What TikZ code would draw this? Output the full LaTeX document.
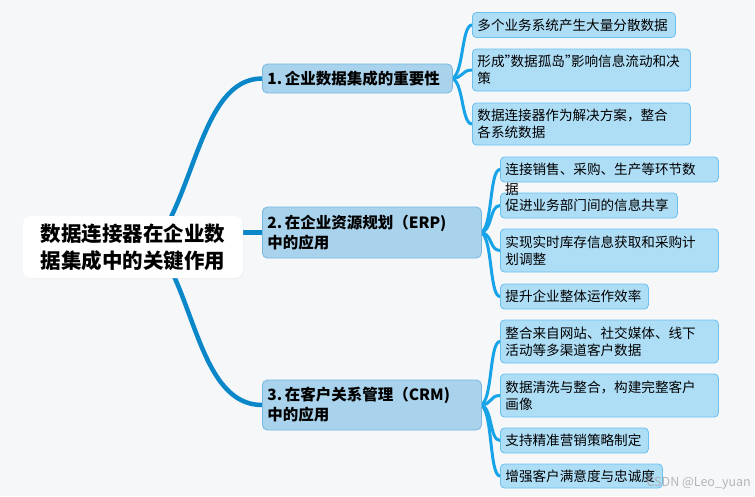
\documentclass[tikz,border=0pt]{standalone}
\usepackage{fontspec}
\setmainfont{Noto Sans CJK SC}
\usepackage{tikz}
\usetikzlibrary{shadows}

\definecolor{pagebg}{HTML}{F5F7F9}
\definecolor{mainblue}{HTML}{0A87C9}
\definecolor{subblue}{HTML}{17A3E8}
\definecolor{branchfill}{HTML}{A9D3EC}
\definecolor{branchedge}{HTML}{74B7E0}
\definecolor{leaffill}{HTML}{AEDDF6}
\definecolor{leafedge}{HTML}{6BC0EE}

\newcommand{\narrowq}{\makebox[6pt][l]{”}}

\pgfdeclarelayer{bg}
\pgfsetlayers{bg,main}

\tikzset{
  rootbox/.style={fill=white, rounded corners=8pt, minimum width=220pt, minimum height=62pt,
    align=center, font=\bfseries\fontsize{20.5}{27}\selectfont,
    drop shadow={opacity=0.06, shadow xshift=1pt, shadow yshift=-1pt}},
  branchbox/.style={fill=branchfill, draw=branchedge, line width=0.8pt, rounded corners=5pt,
    anchor=west, inner xsep=5pt, inner ysep=3pt, align=left,
    font=\bfseries\fontsize{15.5}{20}\selectfont},
  leafbox/.style={fill=leaffill, draw=leafedge, line width=0.8pt, rounded corners=4pt,
    anchor=west, inner xsep=5pt, inner ysep=2pt, align=left,
    font=\fontsize{13.6}{17}\selectfont},
  mainline/.style={draw=mainblue, line width=4.5pt, line cap=round},
  subline/.style={draw=subblue, line width=3pt, line cap=round}
}

\begin{document}
\begin{tikzpicture}[x=1pt, y=-1pt]
\useasboundingbox (0,0) rectangle (755,496);

% root and main branches
\node[rootbox] (root) at (133,247) {数据连接器在企业数\\据集成中的关键作用};
\node[branchbox, text width=180pt, minimum height=29pt] (b1) at (262,78.5) {1.\,企业数据集成的重要性};
\node[branchbox, text width=209pt, minimum height=51pt] (b2) at (262,232.5) {2.\,在企业资源规划（ERP)\\中的应用};
\node[branchbox, text width=209pt, minimum height=50pt] (b3) at (262,405) {3.\,在客户关系管理（CRM)\\中的应用};

% leaves of branch 1
\foreach \lname/\ly/\lw/\lh/\ltxt in {
    l11/25/193/25/{多个业务系统产生大量分散数据},
    l12/70/208/42/{形成\narrowq 数据孤岛\narrowq 影响信息流动和决\\策},
    l13/124/208/42/{数据连接器作为解决方案，整合\\各系统数据}}
  {
    \node[leafbox, text width=\lw pt, minimum height=\lh pt] (\lname) at (472,\ly) {\ltxt};
  }

% leaves of branch 2 and 3
\foreach \lname/\ly/\lw/\lh/\ltxt in {
    l21/169.5/208/25/{连接销售、采购、生产等环节数},
    l22/205.5/167/25/{促进业务部门间的信息共享},
    l23/250.5/208/43/{实现实时库存信息获取和采购计\\划调整},
    l24/296.5/138/25/{提升企业整体运作效率},
    l31/341.5/208/43/{整合来自网站、社交媒体、线下\\活动等多渠道客户数据},
    l32/395.5/208/43/{数据清洗与整合，构建完整客户\\画像},
    l33/440.5/138/25/{支持精准营销策略制定},
    l34/476/152/24/{增强客户满意度与忠诚度}}
  {
    \node[leafbox, text width=\lw pt, minimum height=\lh pt] (\lname) at (500,\ly) {\ltxt};
  }
% second line of l21 runs out of its box
\node[anchor=north west, inner sep=0pt, font=\fontsize{13.6}{17}\selectfont] (l21b)
  at ([xshift=5pt]l21.south west) {据};

\node[anchor=east, inner sep=0pt, text=gray!70, opacity=0.8, font=\fontsize{12.5}{14}\selectfont]
  (mark) at (751,483) {CSDN @Leo\_yuan};

\begin{pgfonlayer}{bg}
  \fill[pagebg] (0,0) rectangle (755,496);
  \coordinate (hub1) at (150,250);
  \coordinate (hub3) at (156,245);
  \draw[mainline] (hub1) .. controls (195,200) and (200,78.5) .. (b1.west);
  \draw[mainline] (root.east |- b2.west) -- (b2.west);
  \draw[mainline] (hub3) .. controls (195,295) and (200,405) .. (b3.west);
  \foreach \l in {l11,l12,l13}
    \draw[subline] ([xshift=-2pt]b1.east) .. controls +(13,0) and +(-11,0) .. (\l.west);
  \foreach \l in {l21,l22,l23,l24}
    \draw[subline] ([xshift=-2pt]b2.east) .. controls +(13,0) and +(-11,0) .. (\l.west);
  \foreach \l in {l31,l32,l33,l34}
    \draw[subline] ([xshift=-2pt]b3.east) .. controls +(13,0) and +(-11,0) .. (\l.west);
\end{pgfonlayer}
\end{tikzpicture}
\end{document}
